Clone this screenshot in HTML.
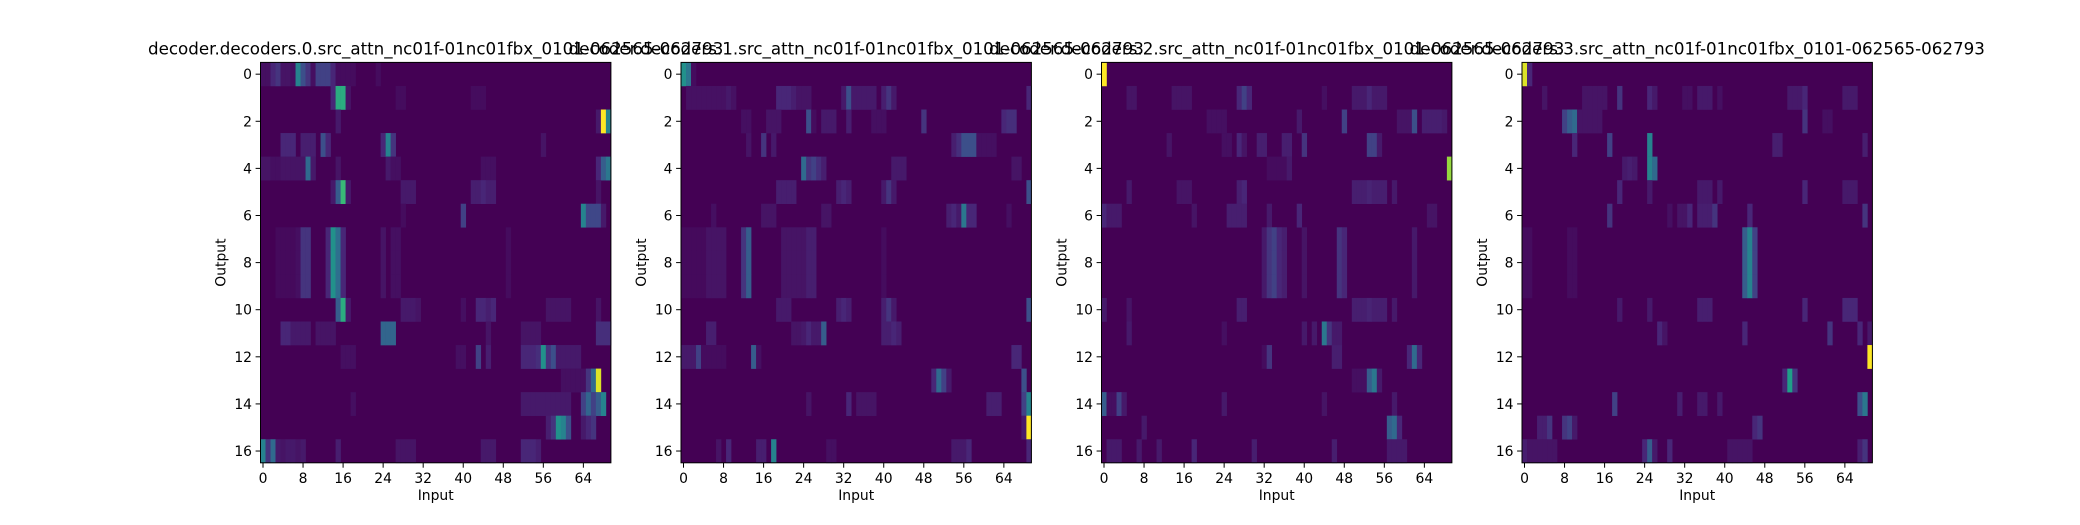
<!DOCTYPE html>
<html><head><meta charset="utf-8"><style>
html,body{margin:0;padding:0;background:#fff;}
svg text{font-family:"DejaVu Sans","Liberation Sans",sans-serif;fill:#000;}
</style></head><body>
<svg id="fig" xmlns="http://www.w3.org/2000/svg" width="2080" height="520" viewBox="0 0 2080 520">
<rect width="2080" height="520" fill="#fff"/>
</svg>
<script>
const titles = [
 "decoder.decoders.0.src_attn_nc01f-01nc01fbx_0101-062565-062793",
 "decoder.decoders.1.src_attn_nc01f-01nc01fbx_0101-062565-062793",
 "decoder.decoders.2.src_attn_nc01f-01nc01fbx_0101-062565-062793",
 "decoder.decoders.3.src_attn_nc01f-01nc01fbx_0101-062565-062793"
];
const nRows = 17;
const nCols = 70;
const xTicks = [0,8,16,24,32,40,48,56,64];
const yTicks = [0,2,4,6,8,10,12,14,16];
// sparse attention values: [row, col, value 0..1]
const panel0 = [
[0,0,0.06],[0,1,0.06],[0,2,0.15],[0,3,0.2],[0,4,0.08],[0,5,0.08],[0,6,0.06],[0,7,0.5],[0,8,0.3],[0,9,0.2],[0,10,0.06],[0,11,0.25],[0,12,0.25],[0,13,0.25],[0,14,0.15],[0,15,0.05],[0,16,0.05],[0,17,0.05],[0,18,0.05],[0,23,0.05],
[1,14,0.15],[1,15,0.65],[1,16,0.65],[1,17,0.08],[1,27,0.05],[1,28,0.05],[1,42,0.05],[1,43,0.05],[1,44,0.05],
[2,15,0.1],[2,67,0.1],[2,68,1.0],[2,69,0.5],
[3,4,0.15],[3,5,0.15],[3,6,0.15],[3,8,0.12],[3,9,0.12],[3,10,0.12],[3,12,0.3],[3,13,0.15],[3,24,0.15],[3,25,0.5],[3,26,0.2],[3,56,0.08],
[4,0,0.08],[4,1,0.08],[4,2,0.06],[4,3,0.06],[4,4,0.08],[4,5,0.08],[4,6,0.08],[4,7,0.08],[4,8,0.08],[4,9,0.4],[4,10,0.1],[4,15,0.08],[4,25,0.1],[4,26,0.06],[4,27,0.06],[4,44,0.06],[4,45,0.06],[4,46,0.06],[4,67,0.15],[4,68,0.35],[4,69,0.45],
[5,14,0.1],[5,15,0.35],[5,16,0.7],[5,17,0.1],[5,28,0.1],[5,29,0.1],[5,30,0.1],[5,42,0.12],[5,43,0.12],[5,44,0.15],[5,45,0.12],[5,46,0.12],[5,67,0.08],
[6,28,0.05],[6,40,0.25],[6,64,0.5],[6,65,0.27],[6,66,0.27],[6,67,0.27],[6,68,0.1],
[7,3,0.04],[7,4,0.04],[7,5,0.04],[7,6,0.04],[7,7,0.06],[7,8,0.2],[7,9,0.2],[7,13,0.15],[7,14,0.55],[7,15,0.42],[7,16,0.15],[7,24,0.08],[7,26,0.06],[7,27,0.06],[7,49,0.05],
[8,3,0.04],[8,4,0.04],[8,5,0.04],[8,6,0.04],[8,7,0.06],[8,8,0.2],[8,9,0.2],[8,13,0.15],[8,14,0.55],[8,15,0.42],[8,16,0.15],[8,24,0.08],[8,26,0.06],[8,27,0.06],[8,49,0.05],
[9,3,0.04],[9,4,0.04],[9,5,0.04],[9,6,0.04],[9,7,0.06],[9,8,0.2],[9,9,0.2],[9,13,0.15],[9,14,0.55],[9,15,0.42],[9,16,0.15],[9,24,0.08],[9,26,0.06],[9,27,0.06],[9,49,0.05],
[10,15,0.35],[10,16,0.65],[10,17,0.1],[10,28,0.1],[10,29,0.1],[10,30,0.1],[10,31,0.08],[10,40,0.06],[10,43,0.15],[10,44,0.15],[10,45,0.12],[10,46,0.15],[10,57,0.08],[10,58,0.08],[10,59,0.08],[10,60,0.08],[10,61,0.08],[10,67,0.08],
[11,4,0.15],[11,5,0.15],[11,6,0.1],[11,7,0.1],[11,8,0.1],[11,9,0.1],[11,11,0.08],[11,12,0.08],[11,13,0.08],[11,14,0.08],[11,24,0.38],[11,25,0.38],[11,26,0.38],[11,45,0.08],[11,52,0.08],[11,53,0.08],[11,54,0.08],[11,55,0.08],[11,67,0.18],[11,68,0.18],[11,69,0.18],
[12,16,0.06],[12,17,0.06],[12,18,0.06],[12,39,0.06],[12,40,0.06],[12,43,0.25],[12,45,0.12],[12,52,0.15],[12,53,0.15],[12,54,0.15],[12,55,0.18],[12,56,0.55],[12,57,0.2],[12,58,0.3],[12,59,0.1],[12,60,0.1],[12,61,0.1],[12,62,0.1],[12,63,0.1],
[13,60,0.06],[13,61,0.06],[13,62,0.06],[13,63,0.06],[13,64,0.06],[13,65,0.2],[13,66,0.4],[13,67,0.95],
[14,18,0.06],[14,52,0.1],[14,53,0.1],[14,54,0.1],[14,55,0.1],[14,56,0.1],[14,57,0.1],[14,58,0.1],[14,59,0.1],[14,60,0.1],[14,61,0.1],[14,64,0.25],[14,65,0.38],[14,66,0.25],[14,67,0.35],[14,68,0.5],
[15,57,0.12],[15,58,0.2],[15,59,0.55],[15,60,0.5],[15,61,0.3],[15,64,0.1],[15,65,0.15],[15,66,0.2],
[16,0,0.5],[16,1,0.2],[16,2,0.4],[16,3,0.1],[16,4,0.08],[16,5,0.1],[16,6,0.1],[16,7,0.08],[16,8,0.1],[16,15,0.12],[16,27,0.08],[16,28,0.08],[16,29,0.08],[16,30,0.08],[16,44,0.1],[16,45,0.1],[16,46,0.1],[16,52,0.15],[16,53,0.15],[16,54,0.15],[16,55,0.12]
];
const panel1 = [
[0,0,0.55],[0,1,0.45],[0,2,0.05],
[1,1,0.07],[1,2,0.07],[1,3,0.07],[1,4,0.07],[1,5,0.07],[1,6,0.07],[1,7,0.07],[1,8,0.07],[1,9,0.1],[1,10,0.07],[1,19,0.15],[1,20,0.15],[1,21,0.15],[1,22,0.12],[1,23,0.08],[1,24,0.08],[1,25,0.08],[1,32,0.1],[1,33,0.3],[1,34,0.1],[1,35,0.1],[1,36,0.1],[1,37,0.1],[1,38,0.1],[1,40,0.12],[1,41,0.2],[1,42,0.1],[1,69,0.15],
[2,12,0.06],[2,13,0.06],[2,17,0.08],[2,18,0.08],[2,19,0.08],[2,25,0.3],[2,26,0.05],[2,28,0.1],[2,29,0.1],[2,30,0.1],[2,33,0.12],[2,38,0.06],[2,39,0.06],[2,40,0.06],[2,48,0.2],[2,64,0.15],[2,65,0.18],[2,66,0.18],
[3,13,0.08],[3,16,0.2],[3,18,0.1],[3,54,0.12],[3,55,0.18],[3,56,0.3],[3,57,0.3],[3,58,0.3],[3,59,0.06],[3,60,0.06],[3,61,0.06],[3,62,0.06],
[4,24,0.4],[4,25,0.2],[4,26,0.25],[4,27,0.18],[4,28,0.12],[4,42,0.1],[4,43,0.1],[4,44,0.1],[4,66,0.08],[4,67,0.08],
[5,19,0.12],[5,20,0.12],[5,21,0.12],[5,22,0.12],[5,31,0.12],[5,32,0.15],[5,33,0.12],[5,40,0.1],[5,41,0.2],[5,42,0.1],[5,69,0.3],
[6,6,0.06],[6,16,0.08],[6,17,0.08],[6,18,0.08],[6,28,0.08],[6,29,0.08],[6,53,0.12],[6,54,0.15],[6,55,0.1],[6,56,0.45],[6,57,0.15],[6,58,0.15],[6,65,0.06],
[7,0,0.04],[7,1,0.04],[7,2,0.04],[7,3,0.04],[7,4,0.04],[7,5,0.08],[7,6,0.08],[7,7,0.08],[7,8,0.08],[7,12,0.2],[7,13,0.35],[7,20,0.08],[7,21,0.08],[7,22,0.08],[7,23,0.08],[7,24,0.08],[7,25,0.12],[7,26,0.12],[7,40,0.05],
[8,0,0.04],[8,1,0.04],[8,2,0.04],[8,3,0.04],[8,4,0.04],[8,5,0.08],[8,6,0.08],[8,7,0.08],[8,8,0.08],[8,12,0.2],[8,13,0.35],[8,20,0.08],[8,21,0.08],[8,22,0.08],[8,23,0.08],[8,24,0.08],[8,25,0.12],[8,26,0.12],[8,40,0.05],
[9,0,0.04],[9,1,0.04],[9,2,0.04],[9,3,0.04],[9,4,0.04],[9,5,0.08],[9,6,0.08],[9,7,0.08],[9,8,0.08],[9,12,0.2],[9,13,0.35],[9,20,0.08],[9,21,0.08],[9,22,0.08],[9,23,0.08],[9,24,0.08],[9,25,0.12],[9,26,0.12],[9,40,0.05],
[10,19,0.1],[10,20,0.1],[10,21,0.1],[10,31,0.12],[10,32,0.15],[10,33,0.12],[10,40,0.12],[10,41,0.2],[10,42,0.1],[10,69,0.3],
[11,5,0.12],[11,6,0.12],[11,22,0.08],[11,23,0.08],[11,24,0.1],[11,25,0.15],[11,26,0.1],[11,27,0.1],[11,28,0.35],[11,40,0.12],[11,41,0.12],[11,42,0.15],[11,43,0.12],
[12,0,0.1],[12,1,0.1],[12,2,0.1],[12,3,0.25],[12,4,0.05],[12,5,0.05],[12,6,0.05],[12,7,0.05],[12,8,0.05],[12,14,0.35],[12,15,0.06],[12,66,0.15],[12,67,0.15],
[13,50,0.15],[13,51,0.4],[13,52,0.25],[13,53,0.1],[13,68,0.3],
[14,25,0.08],[14,33,0.15],[14,35,0.08],[14,36,0.08],[14,37,0.08],[14,38,0.08],[14,61,0.12],[14,62,0.12],[14,63,0.12],[14,68,0.25],[14,69,0.5],
[15,68,0.1],[15,69,1.0],
[16,7,0.08],[16,9,0.15],[16,15,0.12],[16,16,0.12],[16,18,0.5],[16,29,0.06],[16,30,0.06],[16,54,0.1],[16,55,0.1],[16,56,0.1],[16,57,0.15],[16,69,0.15]
];
const panel2 = [
[0,0,1.0],
[1,5,0.08],[1,6,0.08],[1,14,0.08],[1,15,0.08],[1,16,0.08],[1,17,0.08],[1,27,0.15],[1,28,0.25],[1,29,0.15],[1,44,0.06],[1,50,0.1],[1,51,0.1],[1,52,0.1],[1,53,0.15],[1,54,0.1],[1,55,0.1],[1,56,0.1],
[2,21,0.06],[2,22,0.06],[2,23,0.06],[2,24,0.06],[2,39,0.1],[2,48,0.25],[2,59,0.08],[2,60,0.08],[2,61,0.08],[2,62,0.3],[2,64,0.12],[2,65,0.12],[2,66,0.12],[2,67,0.12],[2,68,0.1],
[3,13,0.08],[3,24,0.06],[3,25,0.06],[3,27,0.15],[3,28,0.08],[3,31,0.12],[3,32,0.12],[3,36,0.12],[3,37,0.12],[3,40,0.2],[3,53,0.25],[3,54,0.25],[3,55,0.1],
[4,33,0.05],[4,34,0.05],[4,35,0.05],[4,36,0.05],[4,37,0.1],[4,69,0.85],
[5,5,0.1],[5,15,0.08],[5,16,0.08],[5,17,0.08],[5,27,0.12],[5,28,0.15],[5,50,0.12],[5,51,0.12],[5,52,0.12],[5,53,0.14],[5,54,0.12],[5,55,0.12],[5,56,0.12],[5,58,0.1],
[6,0,0.15],[6,1,0.1],[6,2,0.1],[6,3,0.1],[6,18,0.08],[6,25,0.12],[6,26,0.12],[6,27,0.12],[6,28,0.12],[6,33,0.1],[6,39,0.15],[6,65,0.08],[6,66,0.08],
[7,32,0.1],[7,33,0.2],[7,34,0.25],[7,35,0.15],[7,36,0.12],[7,40,0.08],[7,47,0.2],[7,48,0.15],[7,62,0.1],
[8,32,0.1],[8,33,0.2],[8,34,0.25],[8,35,0.15],[8,36,0.12],[8,40,0.08],[8,47,0.2],[8,48,0.15],[8,62,0.1],
[9,32,0.1],[9,33,0.2],[9,34,0.25],[9,35,0.15],[9,36,0.12],[9,40,0.08],[9,47,0.2],[9,48,0.15],[9,62,0.1],
[10,0,0.1],[10,5,0.08],[10,27,0.12],[10,28,0.12],[10,50,0.12],[10,51,0.12],[10,52,0.12],[10,53,0.14],[10,54,0.12],[10,55,0.12],[10,56,0.12],[10,58,0.1],
[11,5,0.1],[11,24,0.06],[11,40,0.1],[11,42,0.1],[11,44,0.45],[11,45,0.2],[11,46,0.1],[11,47,0.1],
[12,32,0.05],[12,33,0.2],[12,46,0.12],[12,47,0.12],[12,61,0.15],[12,62,0.4],[12,63,0.15],
[13,50,0.06],[13,51,0.06],[13,52,0.06],[13,53,0.35],[13,54,0.45],[13,55,0.1],
[14,0,0.35],[14,1,0.06],[14,2,0.06],[14,3,0.25],[14,4,0.1],[14,24,0.1],[14,44,0.08],[14,58,0.1],
[15,8,0.1],[15,57,0.35],[15,58,0.4],[15,59,0.15],
[16,1,0.1],[16,2,0.1],[16,3,0.1],[16,7,0.1],[16,11,0.1],[16,18,0.15],[16,30,0.12],[16,46,0.12],[16,57,0.1],[16,58,0.1],[16,59,0.1],[16,60,0.1]
];
const panel3 = [
[0,0,0.95],[0,1,0.15],
[1,4,0.08],[1,12,0.08],[1,13,0.08],[1,14,0.08],[1,15,0.08],[1,16,0.08],[1,19,0.2],[1,25,0.15],[1,26,0.1],[1,32,0.06],[1,33,0.06],[1,35,0.1],[1,36,0.1],[1,37,0.1],[1,39,0.06],[1,53,0.1],[1,54,0.1],[1,55,0.1],[1,56,0.15],[1,64,0.1],[1,65,0.1],[1,66,0.1],
[2,8,0.25],[2,9,0.35],[2,10,0.4],[2,11,0.08],[2,12,0.08],[2,13,0.08],[2,14,0.08],[2,15,0.08],[2,56,0.2],[2,60,0.06],[2,61,0.06],
[3,10,0.15],[3,17,0.25],[3,25,0.5],[3,50,0.12],[3,51,0.12],[3,68,0.12],
[4,20,0.1],[4,21,0.12],[4,22,0.1],[4,25,0.5],[4,26,0.4],
[5,19,0.15],[5,25,0.1],[5,35,0.1],[5,36,0.1],[5,37,0.1],[5,39,0.1],[5,56,0.15],[5,64,0.1],[5,65,0.1],[5,66,0.1],
[6,17,0.2],[6,29,0.06],[6,31,0.08],[6,32,0.08],[6,33,0.15],[6,35,0.12],[6,36,0.12],[6,37,0.12],[6,38,0.2],[6,45,0.15],[6,68,0.2],
[7,0,0.05],[7,1,0.05],[7,9,0.05],[7,10,0.05],[7,44,0.35],[7,45,0.5],[7,46,0.25],
[8,0,0.05],[8,1,0.05],[8,9,0.05],[8,10,0.05],[8,44,0.35],[8,45,0.5],[8,46,0.25],
[9,0,0.05],[9,1,0.05],[9,9,0.05],[9,10,0.05],[9,44,0.35],[9,45,0.5],[9,46,0.25],
[10,19,0.1],[10,25,0.1],[10,35,0.12],[10,36,0.12],[10,37,0.12],[10,56,0.15],[10,64,0.15],[10,65,0.15],[10,66,0.15],
[11,27,0.15],[11,28,0.08],[11,44,0.15],[11,61,0.2],[11,67,0.15],[11,69,0.1],
[12,69,1.0],
[13,52,0.15],[13,53,0.6],[13,54,0.2],
[14,18,0.25],[14,31,0.12],[14,35,0.1],[14,36,0.1],[14,39,0.1],[14,67,0.3],[14,68,0.45],
[15,3,0.12],[15,4,0.12],[15,5,0.2],[15,8,0.2],[15,9,0.25],[15,10,0.1],[15,46,0.15],[15,47,0.2],
[16,0,0.12],[16,1,0.08],[16,2,0.08],[16,3,0.08],[16,4,0.08],[16,5,0.08],[16,6,0.08],[16,24,0.15],[16,25,0.35],[16,26,0.1],[16,29,0.15],[16,41,0.08],[16,42,0.08],[16,43,0.08],[16,44,0.08],[16,45,0.08],[16,67,0.12],[16,68,0.2]
];
const panels = [panel0, panel1, panel2, panel3];

const VIR = [[68,1,84],[72,40,120],[62,74,137],[49,104,142],[38,130,142],[31,158,137],[53,183,121],[109,205,89],[180,222,44],[253,231,37]];
function viridis(v){
  v=Math.max(0,Math.min(1,v));
  v = v - 0.4*v*(1-v)*(1-v);
  const f=v*(VIR.length-1), i=Math.min(Math.floor(f),VIR.length-2), t=f-i;
  const c=VIR[i].map((a,k)=>Math.round(a+(VIR[i+1][k]-a)*t));
  return `rgb(${c[0]},${c[1]},${c[2]})`;
}
const NS="http://www.w3.org/2000/svg";
const svg=document.getElementById('fig');
function mk(tag,attrs,parent){const e=document.createElementNS(NS,tag);for(const k in attrs)e.setAttribute(k,attrs[k]);(parent||svg).appendChild(e);return e;}
const axLeft0=260.5, axStep=420.5, axW=350.4, axTop=62.4, axH=400.4;
panels.forEach((data,p)=>{
  const L=axLeft0+p*axStep;
  const xs=c=>L+(c+0.5)*axW/nCols;
  const ys=r=>axTop+(r+0.5)*axH/nRows;
  const cw=axW/nCols, rh=axH/nRows;
  const g=mk('g',{});
  
  
  const bg=mk('rect',{x:L,y:axTop,width:axW,height:axH,fill:viridis(0)},g);
  
  
  data.forEach(d=>{
    const r=mk('rect',{x:(xs(d[1])-cw/2).toFixed(2),y:(ys(d[0])-rh/2).toFixed(2),width:(cw+0.3).toFixed(2),height:(rh+0.3).toFixed(2),fill:viridis(d[2])},g);
    
    
  });
  const fr=mk('rect',{x:L,y:axTop,width:axW,height:axH,fill:'none',stroke:'#000','stroke-width':1},g);
  
  
  xTicks.forEach(t=>{
    const x=xs(t);
    mk('line',{x1:x,x2:x,y1:axTop+axH,y2:axTop+axH+4.9,stroke:'#000','stroke-width':1},g);
    const tx=mk('text',{x:x,y:axTop+axH+20,'text-anchor':'middle','font-size':'13.9px'},g);
    tx.textContent=t;
    
    
  });
  yTicks.forEach(t=>{
    const y=ys(t);
    mk('line',{x1:L-4.9,x2:L,y1:y,y2:y,stroke:'#000','stroke-width':1},g);
    const tx=mk('text',{x:L-8.5,y:y+5,'text-anchor':'end','font-size':'13.9px'},g);
    tx.textContent=t;
    
    
  });
  const xl=mk('text',{x:L+axW/2,y:axTop+axH+37,'text-anchor':'middle','font-size':'13.9px'},g);
  xl.textContent='Input';
  
  
  const yx=L-35, yy=axTop+axH/2;
  const yl=mk('text',{x:yx,y:yy,'text-anchor':'middle','font-size':'13.9px',transform:`rotate(-90 ${yx} ${yy})`},g);
  yl.textContent='Output';
  
  
  const tt=mk('text',{x:L+axW/2,y:axTop-8,'text-anchor':'middle','font-size':'16.7px'},g);
  tt.textContent=titles[p];
  
  
});
</script>
</body></html>
